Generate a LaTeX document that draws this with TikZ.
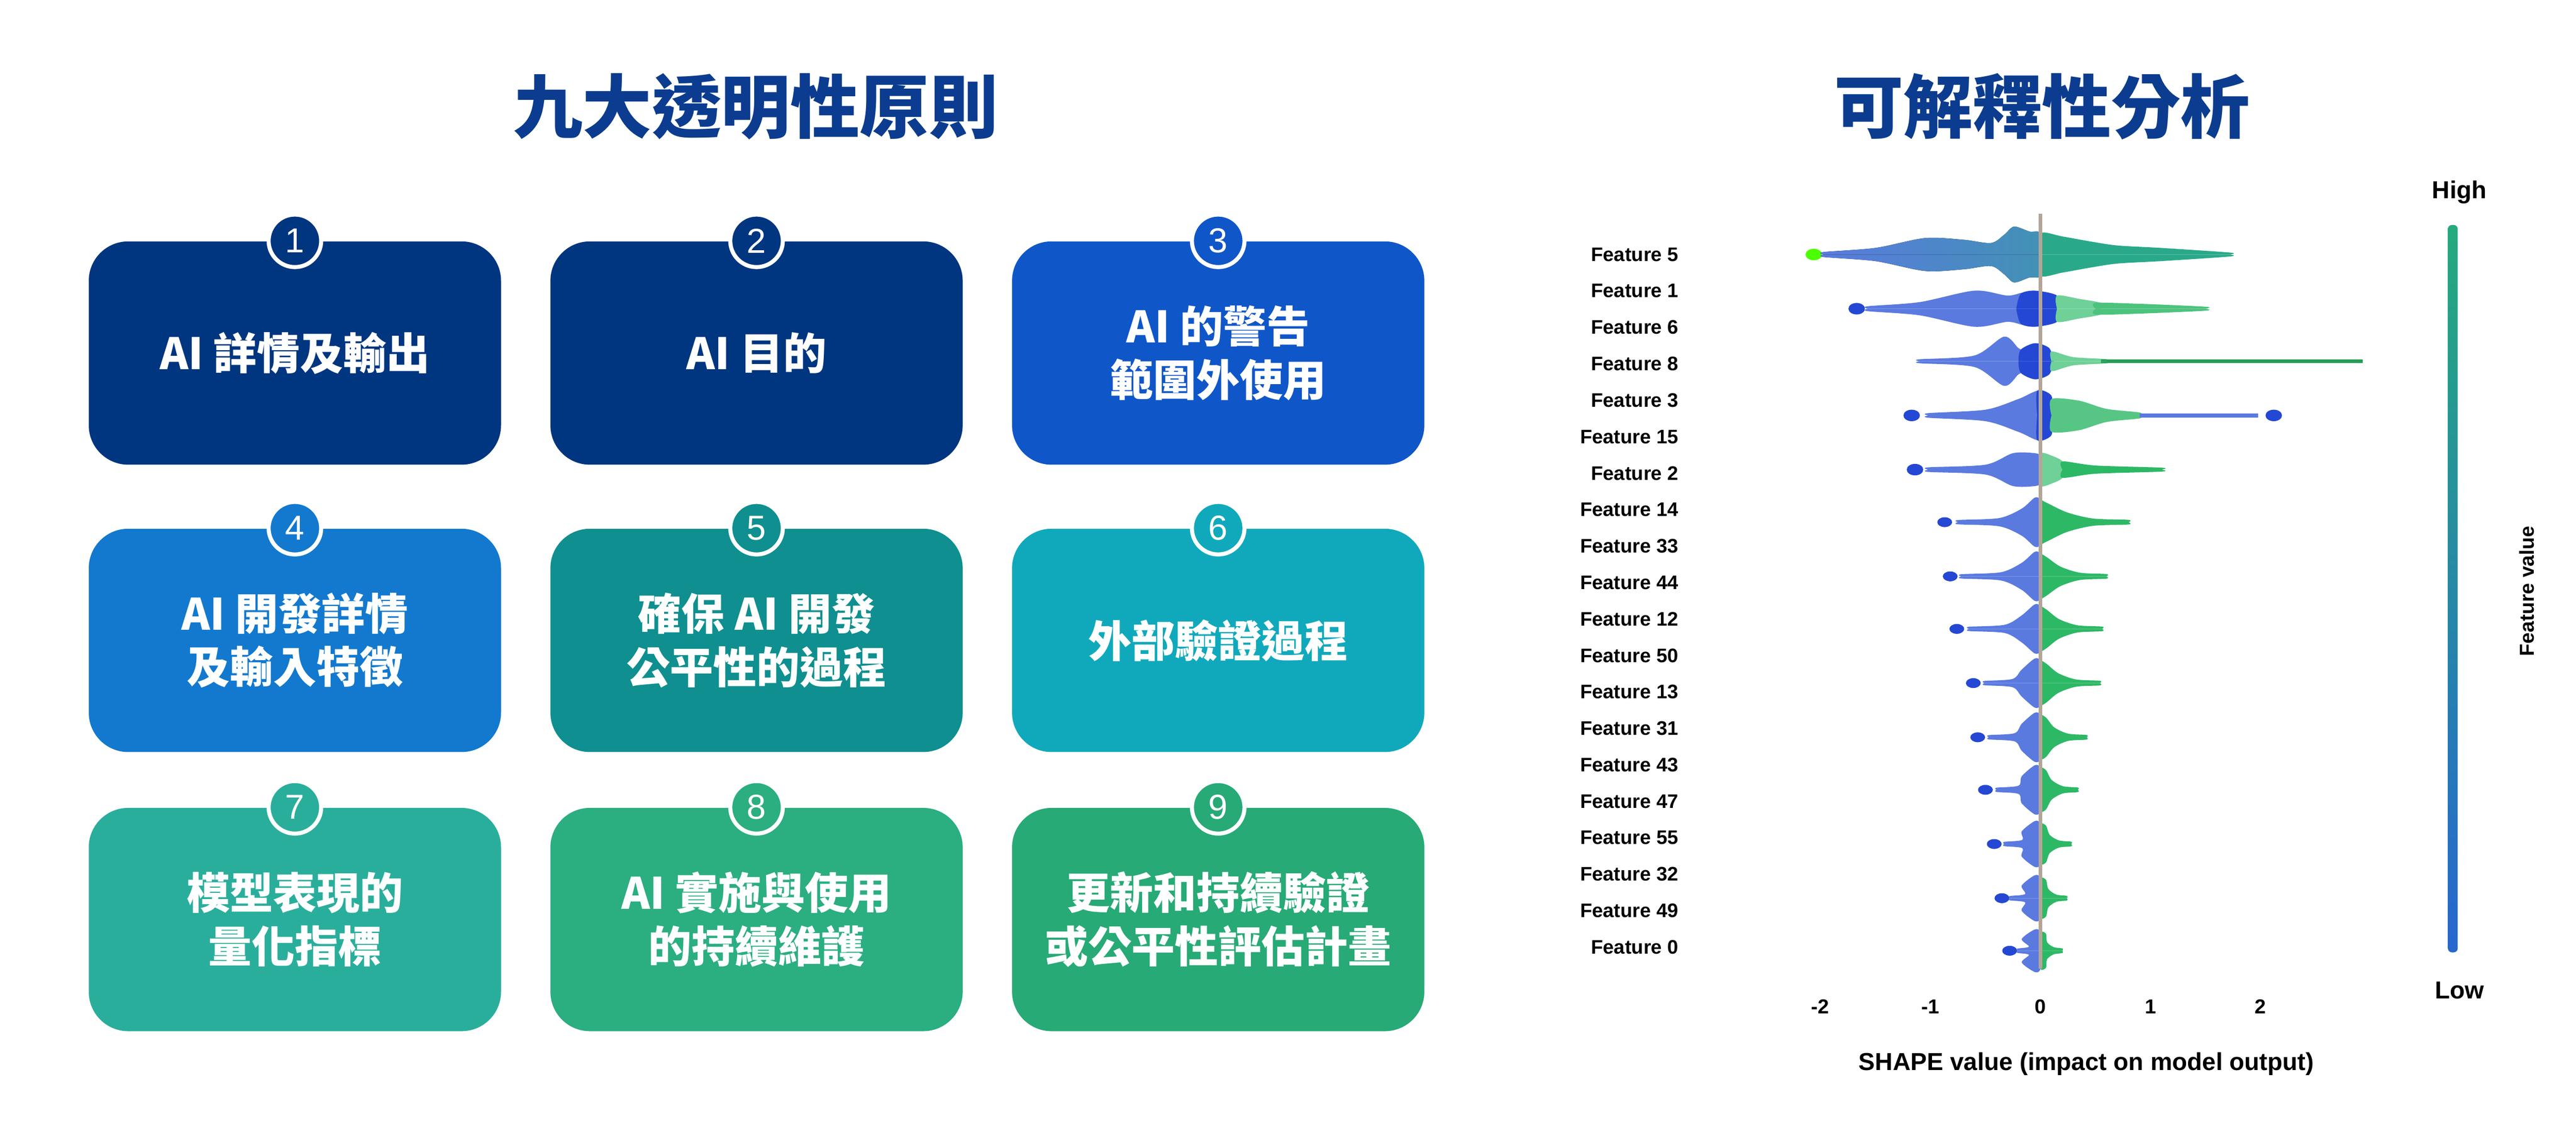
\documentclass[tikz,border=0pt]{standalone}
\usepackage{fontspec}
\setmainfont{Liberation Sans}
\newfontfamily\cjk{Noto Sans CJK TC}
\definecolor{titleblue}{HTML}{0B3C8F}
\definecolor{cA}{HTML}{003580}
\definecolor{cB}{HTML}{0F56C9}
\definecolor{cC}{HTML}{1279CF}
\definecolor{cD}{HTML}{0F8F8F}
\definecolor{cE}{HTML}{10A9BC}
\definecolor{cF}{HTML}{2AAE9C}
\definecolor{cG}{HTML}{2BAE80}
\definecolor{cH}{HTML}{27AA76}
\definecolor{vblue}{HTML}{5A7AE0}
\definecolor{vdark}{HTML}{2448D4}
\definecolor{vgreen}{HTML}{2DB866}
\definecolor{vlight}{HTML}{6FD098}
\definecolor{vteal}{HTML}{2AA98A}
\tikzset{line cap=round,line join=round}
\begin{document}
\begin{tikzpicture}[x=0.02cm,y=-0.02cm,
    box/.style={rounded corners=0.48cm,minimum width=5.02cm,minimum height=2.72cm,
        text=white,align=center,font=\cjk\bfseries\fontsize{15}{18.5}\selectfont},
    num/.style={circle,draw=white,line width=1.4pt,minimum size=0.64cm,inner sep=0pt,
        text=white,font=\fontsize{12}{12}\selectfont},
    feat/.style={anchor=east,inner sep=0pt,font=\bfseries\fontsize{6.8}{8}\selectfont},
    tick/.style={inner sep=0pt,font=\bfseries\fontsize{7}{8}\selectfont}]
    \useasboundingbox (0,0) rectangle (1568,682.5);
    \node[name=T1,text=titleblue,font=\cjk\bfseries\fontsize{24}{28}\selectfont] at (460,65) {九大透明性原則};
    \node[name=T2,text=titleblue,font=\cjk\bfseries\fontsize{24}{28}\selectfont] at (1243,65) {可解釋性分析};
    % principle boxes
    \foreach \i/\x/\y/\c/\t in {%
        1/179.5/215/cA/{AI 詳情及輸出},
        2/460.5/215/cA/{AI 目的},
        3/741.5/215/cB/{AI 的警告\\範圍外使用},
        4/179.5/390/cC/{AI 開發詳情\\及輸入特徵},
        5/460.5/390/cD/{確保 AI 開發\\公平性的過程},
        6/741.5/390/cE/{外部驗證過程},
        7/179.5/560/cF/{模型表現的\\量化指標},
        8/460.5/560/cG/{AI 實施與使用\\的持續維護},
        9/741.5/560/cH/{更新和持續驗證\\或公平性評估計畫}}{%
    \node[box,fill=\c,name=b\i] at (\x,\y) {\t};
    \node[num,fill=\c,name=n\i] at (b\i.north) {\i};
    }
    % violins, top rows
    \begin{scope}[shift={(1242,155)},x=1.34cm,y=0.02cm]
        \fill[green!60!lime] (-2.06,0) circle[x radius=0.1cm,y radius=0.07cm];
        \foreach \s in {1,-1}{%
        \fill[yscale=\s,left color=vblue,right color=vblue!50!vteal] plot[smooth] coordinates {(-1.97,0) (-1.97,1.5) (-1.5,4) (-1.05,10) (-0.7,9) (-0.45,7) (-0.33,12) (-0.24,17) (-0.1,14) (0,13) (0,0)};
        \fill[yscale=\s,vteal] plot[smooth] coordinates {(0,0) (0,13) (0.2,11) (0.45,8) (0.7,5.5) (1.1,4) (1.72,1.2) (1.72,0)};
        }
    \end{scope}
    \begin{scope}[shift={(1242,188)},x=1.34cm,y=0.02cm]
        \fill[vdark] (-1.67,0) circle[x radius=0.1cm,y radius=0.07cm];
        \foreach \s in {1,-1}{%
        \fill[yscale=\s,vblue] plot[smooth] coordinates {(-1.57,0) (-1.57,1.5) (-1.1,4) (-0.6,11) (-0.3,8) (-0.15,10) (0,10) (0,0)};
        \fill[yscale=\s,vdark] plot[smooth] coordinates {(-0.22,0) (-0.18,9) (-0.05,11) (0.15,8) (0.15,0)};
        \fill[yscale=\s,vlight] plot[smooth] coordinates {(0.15,0) (0.15,8) (0.35,6) (0.55,3.5) (0.55,0)};
        \fill[yscale=\s,vgreen!85!white] plot[smooth] coordinates {(0.5,0) (0.5,3.5) (0.9,3) (1.5,1.2) (1.5,0)};
        }
    \end{scope}
    \begin{scope}[shift={(1242,220)},x=1.34cm,y=0.02cm]
        \foreach \s in {1,-1}{%
        \fill[yscale=\s,vblue] plot[smooth] coordinates {(-1.1,0) (-1.1,1.2) (-0.6,3.5) (-0.33,15) (-0.2,8) (-0.15,7) (0,7) (0,0)};
        \fill[yscale=\s,vdark] plot[smooth] coordinates {(-0.2,0) (-0.18,7) (-0.05,11) (0.08,8) (0.12,0)};
        \fill[yscale=\s,vlight] plot[smooth] coordinates {(0.1,0) (0.1,6) (0.3,2.5) (0.6,1.3) (0.6,0)};
        \fill[yscale=\s,vgreen!85!black] (0.55,0) rectangle (2.93,1);
        }
    \end{scope}
    \begin{scope}[shift={(1242,253)},x=1.34cm,y=0.02cm]
        \fill[vdark] (-1.17,0) circle[x radius=0.1cm,y radius=0.07cm];
        \fill[vdark] (2.12,0) circle[x radius=0.1cm,y radius=0.07cm];
        \foreach \s in {1,-1}{%
        \fill[yscale=\s,vblue] plot[smooth] coordinates {(-1.02,0) (-1.02,1.4) (-0.5,3.5) (-0.2,10) (0,15) (0,0)};
        \fill[yscale=\s,vdark] plot[smooth] coordinates {(-0.03,0) (-0.03,15) (0.1,12) (0.1,0)};
        \fill[yscale=\s,vgreen!80!white] plot[smooth] coordinates {(0.1,0) (0.1,10) (0.35,9) (0.6,4) (0.9,1.8) (0.9,0)};
        \fill[yscale=\s,vblue] (0.9,0) rectangle (1.98,1.3);
        }
    \end{scope}
    \begin{scope}[shift={(1242,286)},x=1.34cm,y=0.02cm]
        \fill[vdark] (-1.14,0) circle[x radius=0.1cm,y radius=0.07cm];
        \foreach \s in {1,-1}{%
        \fill[yscale=\s,vblue] plot[smooth] coordinates {(-1.02,0) (-1.02,1.4) (-0.5,3) (-0.25,10) (-0.05,10) (0,8) (0,0)};
        \fill[yscale=\s,vlight] plot[smooth] coordinates {(0,0) (0,10) (0.12,8) (0.2,5) (0.2,0)};
        \fill[yscale=\s,vgreen] plot[smooth] coordinates {(0.2,0) (0.2,5) (0.5,2.5) (1.1,1.2) (1.1,0)};
        }
    \end{scope}
    % violins, smaller rows
    \foreach \y/\d/\l/\g/\h in {318/-0.87/-0.75/0.8/15, 351/-0.82/-0.72/0.6/15,
        383/-0.76/-0.65/0.56/15, 416/-0.61/-0.51/0.54/15, 449/-0.57/-0.47/0.42/15,
        481/-0.5/-0.4/0.34/15, 514/-0.42/-0.33/0.28/14, 547/-0.35/-0.28/0.24/14,
        579/-0.28/-0.21/0.2/13}{%
    \begin{scope}[shift={(1242,\y)},x=1.34cm,y=0.02cm]
        \fill[vdark] (\d,0) circle[x radius=0.09cm,y radius=0.06cm];
        \foreach \s in {1,-1}{%
        \fill[yscale=\s,vblue] plot[smooth] coordinates {(\l,0) (\l,1.3) ({0.5*\l},2.5) ({-0.17},{0.55*\h}) ({-0.05},\h) (0,{0.85*\h}) (0,0)};
        \fill[yscale=\s,vgreen] plot[smooth] coordinates {(0,0) (0,{0.85*\h}) (0.05,{0.8*\h}) ({0.3*\g},{0.4*\h}) ({0.6*\g},2.2) (\g,1.4) (\g,0)};
        }
    \end{scope}
    }
    \draw[line width=0.045cm,color=brown!30!gray!70] (1242,130) -- (1242,590);
    % feature labels
    \foreach \f [count=\k from 0] in {5,1,6,8,3,15,2,14,33,44,12,50,13,31,43,47,55,32,49,0}{%
    \node[feat,name=f\f] at (1022,155+22.2*\k) {Feature \f};
    }
    \foreach \v [count=\k from -2] in {-2,-1,0,1,2}{%
    \node[tick,name=t\k] at (1242+67*\k,613) {\v};
    }
    \node[tick,name=xlab,font=\bfseries\fontsize{8.5}{9}\selectfont] at (1270,648) {SHAPE value (impact on model output)};
    % colour bar
    \shade[top color=cH!90!cE,bottom color=cB!90!white,rounded corners=0.05cm] (1490,137) rectangle (1496,580);
    \node[tick,name=hi,font=\bfseries\fontsize{8.5}{9}\selectfont] at (1497,117) {High};
    \node[tick,name=lo,font=\bfseries\fontsize{8.5}{9}\selectfont] at (1497,603) {Low};
    \node[tick,name=fv,rotate=90] at (1538,360) {Feature value};
\end{tikzpicture}
\end{document}
